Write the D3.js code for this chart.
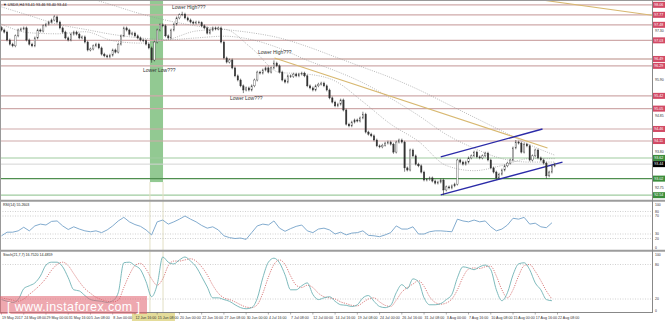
<!DOCTYPE html>
<html><head><meta charset="utf-8">
<script src="https://cdn.jsdelivr.net/npm/d3@7"></script>
<style>html,body{margin:0;padding:0;background:#fff;overflow:hidden}svg{display:block}text{font-family:"Liberation Sans",Arial,sans-serif}</style>
</head><body><svg id="c" width="665" height="321"></svg>
<script>
// ---- DATA (8-hour bars) ----
const closes=[97.33,97.27,97.04,96.92,96.87,97.16,97.33,97.36,97.39,97.04,
96.92,96.87,97.10,97.33,97.30,97.45,97.50,97.56,97.62,97.71,
97.56,97.39,97.27,97.10,97.04,97.21,97.27,97.21,97.10,97.13,
96.98,96.75,96.78,96.87,96.92,96.81,96.63,96.58,96.55,96.60,
96.75,96.69,96.92,97.16,97.39,97.33,97.21,97.24,97.16,97.10,
97.04,97.02,96.92,96.81,96.46,96.98,97.33,97.48,97.45,97.16,
97.10,97.33,97.50,97.68,97.77,97.79,97.68,97.62,97.56,97.53,
97.56,97.54,97.45,97.39,97.24,97.33,97.39,97.36,97.39,96.98,
96.52,96.40,96.46,96.23,96.00,95.88,95.71,95.59,95.65,95.59,
95.71,95.88,96.11,96.08,96.17,96.23,96.11,96.23,96.37,96.29,
96.11,95.88,95.82,96.00,95.98,96.05,96.00,96.05,96.08,96.00,
95.71,95.65,95.59,95.71,95.76,95.79,95.71,95.59,95.36,95.24,
95.13,95.18,95.30,95.01,94.60,94.55,94.66,94.72,94.69,94.78,
94.89,94.37,94.31,94.26,94.14,93.97,93.94,93.99,94.05,94.08,
94.02,93.79,94.08,94.14,94.08,93.33,93.27,93.85,93.68,93.44,
93.39,93.21,92.98,93.00,93.04,92.95,92.89,92.92,92.98,92.69,
92.78,92.75,92.81,92.86,93.56,93.50,93.44,93.50,93.62,93.68,
93.79,93.65,93.62,93.68,93.76,93.56,93.33,93.21,93.04,93.15,
93.27,93.39,93.47,93.56,93.91,94.08,94.05,93.79,94.02,93.97,
93.56,93.68,93.85,93.62,93.56,93.47,93.10,93.21,93.39,93.44];
const firstOpen=97.40;
const wickExtra=0.04;
const lowOverrides=[[54,96.38],[87,95.50],[141,93.74],[145,93.22],[159,92.54],[178,92.98],[196,93.02]];
const highOverrides=[[65,97.86],[98,96.45],[130,94.96],[185,94.14],[19,97.76]];

const maIdx=[0,10,20,30,40,50,60,70,80,90,100,110,120,130,140,150,160,170,180,190,199];
const maFast=[97.50,97.25,97.22,97.28,97.02,96.95,97.05,97.30,97.35,96.80,96.10,96.05,95.85,95.25,94.60,94.10,93.40,93.25,93.40,93.60,93.60];
const maMid=[98.00,97.75,97.50,97.35,97.20,97.10,97.05,97.10,97.15,97.05,96.80,96.45,96.15,95.80,95.35,94.85,94.30,93.90,93.60,93.50,93.50];
const maSlow=[99.20,98.90,98.60,98.30,98.05,97.80,97.60,97.45,97.35,97.25,97.10,96.85,96.55,96.25,95.95,95.60,95.20,94.80,94.40,94.00,93.70];

const redLevels=[98.06,97.77,97.48,97.03,96.49,96.29,95.42,95.05,94.46,94.11];
const greenLevels=[93.62,93.02,92.54];
const currentPrice=93.44;
const priceTicks=[92.40,92.75,93.10,93.45,93.80,94.15,94.50,94.85,95.20,95.55,95.90,96.25,96.60,96.95,97.30,97.65,98.00];

const trendTan=[[[98.2,96.52],[196.4,93.91]],[[190,98.25],[240,97.69]]];
const channel=[[[158,93.65],[194.6,94.46]],[[158,92.55],[201.8,93.50]]];
const band={from:53.4,to:58.1,bottom:92.92};

const notes=[["Lower High???",172,97.95],["Lower Low???",143,96.11],["Lower High???",258,96.64],["Lower Low???",230,95.31]];

const rsi=[26,34,34,37,45,37,48,52,50,58,59,48,40,46,41,37,35,37,33,39,48,59,67,57,51,47,39,28,57,61,52,57,63,70,63,57,49,43,46,39,26,22,20,21,18,33,48,52,50,59,43,36,42,47,50,37,33,41,43,39,30,34,28,32,33,37,27,26,24,28,33,48,41,41,46,30,30,35,37,37,36,35,63,59,57,61,57,59,46,37,41,50,65,63,67,52,54,46,44,55];
const stochK=[19,16,14,19,38,43,48,60,79,84,84,76,57,36,34,26,19,17,16,14,17,31,83,84,78,71,50,24,45,93,84,81,88,93,86,76,59,41,22,22,19,16,10,5,3,5,21,57,84,91,83,62,36,36,43,48,28,19,22,24,16,10,9,7,10,22,26,16,7,5,9,31,45,38,55,50,22,10,10,12,19,28,57,76,74,71,76,79,71,36,17,31,62,81,83,71,48,36,19,17];
const stochD=[22,20,18,16,20,28,36,45,56,70,80,84,78,64,50,38,30,23,19,16,15,18,40,62,78,82,72,55,44,55,78,86,86,88,90,86,76,62,44,30,22,19,15,10,6,5,10,30,58,80,88,80,60,44,40,44,40,30,24,22,20,15,12,9,8,14,20,22,15,9,7,18,32,40,46,52,42,24,14,11,13,20,36,58,72,74,73,76,77,60,36,22,36,60,78,80,68,52,34,20];
const rsiLevels=[80,70,30,20], rsiTicks=[100,80,70,30,20,0];
const stLevels=[80,20], stTicks=[100,80,20,0];

const timeLabels=["19 May 2017","24 May 08:00","29 May 00:00","31 May 16:00","5 Jun 08:00","8 Jun 00:00","12 Jun 16:00","15 Jun 08:00","20 Jun 00:00","22 Jun 16:00","27 Jun 08:00","30 Jun 00:00","4 Jul 16:00","7 Jul 08:00","12 Jul 00:00","14 Jul 16:00","19 Jul 08:00","24 Jul 00:00","26 Jul 16:00","31 Jul 08:00","3 Aug 00:00","7 Aug 16:00","10 Aug 08:00","15 Aug 00:00","17 Aug 16:00","22 Aug 08:00"];
const barsPerLabel=8;
const title="\u25BC USDX,H4  93.41 93.46 93.40 93.44";
const rsiTitle="RSI(14) 55.2603";
const stTitle="Stoch(21,7,7) 16.7520 14.4859";

// ---- DRAW ----
const svg=d3.select('#c');
const PR=652;
const x=d3.scaleLinear().domain([0,200]).range([1.5,557.5]);
const y=d3.scaleLinear().domain([92.4,98.2]).range([200,0]);
const yR=d3.scaleLinear().domain([0,100]).range([247.5,202.5]);
const yS=d3.scaleLinear().domain([0,100]).range([310.5,253]);
const defs=svg.append('defs');
[['cm',0,0,PR,200],['cr',0,201,PR,49],['cs',0,251,PR,61]].forEach(([id,a,b,w,h])=>defs.append('clipPath').attr('id',id).append('rect').attr('x',a).attr('y',b).attr('width',w).attr('height',h));
svg.append('rect').attr('width',665).attr('height',321).attr('fill','#fff');

const gm=svg.append('g').attr('clip-path','url(#cm)');
gm.append('rect').attr('x',x(band.from)).attr('y',0).attr('width',x(band.to)-x(band.from)).attr('height',y(band.bottom)).attr('fill','#7fbf7f').attr('opacity',0.85);
[band.from,band.to].forEach(b=>svg.append('line').attr('x1',x(b)).attr('x2',x(b)).attr('y1',y(band.bottom)).attr('y2',312).attr('stroke','#e2dfc4').attr('stroke-width',1));
redLevels.forEach((v,i)=>gm.append('line').attr('x1',0).attr('x2',PR).attr('y1',y(v)).attr('y2',y(v)).attr('stroke',i===4?'#b88a82':'#cfaaaa').attr('stroke-width',1.1));
gm.append('line').attr('x1',0).attr('x2',PR).attr('y1',y(currentPrice)).attr('y2',y(currentPrice)).attr('stroke','#d4d4d4').attr('stroke-width',1);
greenLevels.forEach((v,i)=>gm.append('line').attr('x1',0).attr('x2',PR).attr('y1',y(v)).attr('y2',y(v)).attr('stroke',i===1?'#4f8f4f':'#9fcb9f').attr('stroke-width',i===1?1.4:1.1));
const maLine=d3.line().x((d,i)=>x(maIdx[i])).y(d=>y(d)).curve(d3.curveMonotoneX);
[maFast,maMid,maSlow].forEach(a=>gm.append('path').attr('d',maLine(a)).attr('fill','none').attr('stroke','#999').attr('stroke-width',0.7).attr('stroke-dasharray','1,1.3'));
const seg=(s,col,w)=>gm.append('line').attr('x1',x(s[0][0])).attr('y1',y(s[0][1])).attr('x2',x(s[1][0])).attr('y2',y(s[1][1])).attr('stroke',col).attr('stroke-width',w);
trendTan.forEach(s=>seg(s,'#d8b870',1.1));
channel.forEach(s=>seg(s,'#2b2ba8',1.4));
const lowMap=new Map(lowOverrides), highMap=new Map(highOverrides);
const cg=gm.append('g');
closes.forEach((c,i)=>{
  const o=i?closes[i-1]:firstOpen;
  const hi=highMap.has(i)?highMap.get(i):Math.max(o,c)+wickExtra;
  const lo=lowMap.has(i)?lowMap.get(i):Math.min(o,c)-wickExtra;
  const cx=x(i);
  cg.append('line').attr('x1',cx).attr('x2',cx).attr('y1',y(hi)).attr('y2',y(lo)).attr('stroke','#333').attr('stroke-width',0.6);
  const top=y(Math.max(o,c)), bot=y(Math.min(o,c));
  cg.append('rect').attr('x',cx-0.7).attr('y',top).attr('width',1.4).attr('height',Math.max(0.5,bot-top)).attr('fill',c<o?'#333':'#fff').attr('stroke','#333').attr('stroke-width',0.35);
});
notes.forEach(([t,px,p])=>gm.append('text').attr('x',px).attr('y',y(p)).attr('font-size',5).attr('fill','#333').text(t));
svg.append('text').attr('x',3).attr('y',5.5).attr('font-size',3.8).attr('fill','#222').text(title);

const gr=svg.append('g').attr('clip-path','url(#cr)');
rsiLevels.forEach(v=>gr.append('line').attr('x1',0).attr('x2',PR).attr('y1',yR(v)).attr('y2',yR(v)).attr('stroke','#bdbdbd').attr('stroke-width',0.7).attr('stroke-dasharray','1,1.5'));
gr.append('path').attr('d',d3.line().x((d,k)=>x(2*k)).y(d=>yR(d))(rsi)).attr('fill','none').attr('stroke','#74a2c8').attr('stroke-width',0.9);
svg.append('text').attr('x',3).attr('y',206).attr('font-size',3.6).attr('fill','#222').text(rsiTitle);
const gs=svg.append('g').attr('clip-path','url(#cs)');
stLevels.forEach(v=>gs.append('line').attr('x1',0).attr('x2',PR).attr('y1',yS(v)).attr('y2',yS(v)).attr('stroke','#bdbdbd').attr('stroke-width',0.7).attr('stroke-dasharray','1,1.5'));
const stl=d3.line().x((d,k)=>x(2*k)).y(d=>yS(d)).curve(d3.curveMonotoneX);
gs.append('path').attr('d',stl(stochD)).attr('fill','none').attr('stroke','#d06060').attr('stroke-width',0.8).attr('stroke-dasharray','1.2,1.2');
gs.append('path').attr('d',stl(stochK)).attr('fill','none').attr('stroke','#6fb2b4').attr('stroke-width',0.9);
svg.append('text').attr('x',3).attr('y',256).attr('font-size',3.6).attr('fill','#222').text(stTitle);

svg.append('line').attr('x1',0).attr('x2',665).attr('y1',0.5).attr('y2',0.5).attr('stroke','#999');
svg.append('line').attr('x1',0.5).attr('x2',0.5).attr('y1',0).attr('y2',312).attr('stroke','#999');
[200.8,250.8].forEach(v=>svg.append('line').attr('x1',0).attr('x2',665).attr('y1',v).attr('y2',v).attr('stroke','#9c9c9c').attr('stroke-width',2));
svg.append('line').attr('x1',0).attr('x2',PR).attr('y1',312.5).attr('y2',312.5).attr('stroke','#888');
svg.append('line').attr('x1',PR+0.5).attr('x2',PR+0.5).attr('y1',0).attr('y2',313).attr('stroke','#888');

// right axis: tick labels hidden where a level tag sits (as in the reference)
const ax=svg.append('g');
const tagged=redLevels.concat(greenLevels,[currentPrice]);
priceTicks.forEach(v=>{
  if(tagged.some(t=>Math.abs(y(t)-y(v))<6)) return;
  ax.append('text').attr('x',655).attr('y',Math.min(y(v)+1.3,199)).attr('font-size',3.5).attr('fill','#333').text(v.toFixed(2));});
const tag=(v,bg)=>{ax.append('rect').attr('x',653).attr('y',y(v)-3).attr('width',12).attr('height',6).attr('fill',bg);
 ax.append('text').attr('x',654.3).attr('y',y(v)+1.3).attr('font-size',3.6).attr('fill','#fff').text(v.toFixed(2));};
redLevels.forEach(v=>tag(v,'#d24a65'));
greenLevels.forEach(v=>tag(v,'#3b8d3b'));
tag(currentPrice,'#000');
rsiTicks.forEach(v=>ax.append('text').attr('x',655).attr('y',Math.max(yR(v)+1.3,205.5)).attr('font-size',3.4).attr('fill','#333').text(v));
stTicks.forEach(v=>ax.append('text').attr('x',655).attr('y',Math.max(yS(v)+1.3,255.5)).attr('font-size',3.4).attr('fill','#333').text(v));

svg.append('rect').attr('x',x(6*barsPerLabel)-3).attr('y',313).attr('width',43).attr('height',8).attr('fill','#e4dc9a');
timeLabels.forEach((t,j)=>{const px=x(j*barsPerLabel);
  svg.append('line').attr('x1',px).attr('x2',px).attr('y1',312).attr('y2',314.5).attr('stroke','#777').attr('stroke-width',0.6);
  svg.append('text').attr('x',px+0.5).attr('y',318.5).attr('font-size',3.6).attr('fill','#333').text(t);});

svg.append('rect').attr('x',0).attr('y',296).attr('width',147).attr('height',18).attr('fill','#e0606e').attr('opacity',0.55);
svg.append('text').attr('x',7).attr('y',310.5).attr('font-size',12.5).attr('fill','#fff').attr('textLength',133).text('[ www.instaforex.com ]');
</script></body></html>
